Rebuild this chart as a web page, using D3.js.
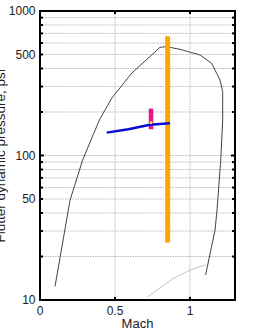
<!DOCTYPE html>
<html><head><meta charset="utf-8">
<script src="https://cdn.jsdelivr.net/npm/d3@7"></script>
<style>body{margin:0;background:#fff}svg{display:block;font-family:"Liberation Sans",Arial,sans-serif}</style>
</head><body><svg id="c" width="273" height="332"></svg>
<script>
const envelopeMach = [0.1,0.2,0.284,0.396,0.478,0.611,0.8,0.844,0.933,1.067,1.144,1.2,1.218,1.218,1.205,1.18,1.167,1.104];
const envelopeQ    = [12.4,49,93,176,249,371,561,566,543,496,435,333,277,176,93,42,30.5,14.9];
const lowMach = [1.104,1.0,0.889,0.716];
const lowQ    = [17.5,16.1,14.1,10.5];
const blueMach = [0.445,0.589,0.733,0.867];
const blueQ    = [144,152,163,167];
const magentaMach = [0.74,0.74];
const magentaQ    = [152,211];
const dotMach = [0.74];
const dotQ    = [169];
const orangeMach = [0.851,0.851];
const orangeQ    = [25,670];
const xTicks = [0,0.5,1];
const xTickLabels = ["0","0.5","1"];
const yMajor = [10,100,1000];
const yLabeled = [10,50,100,500,1000];
const yMinor = [20,30,40,50,60,70,80,90,200,300,400,500,600,700,800,900];

const svg = d3.select("#c");
const L=40,R=235,T=11,B=300;
const x = d3.scaleLinear().domain([0,1.3]).range([L,R]);
const y = d3.scaleLog().domain([10,1000]).range([B,T]);

// grid
const g = svg.append("g");
g.selectAll("line.hg").data(yMinor.concat([100])).join("line")
  .attr("x1",L).attr("x2",R).attr("y1",d=>y(d)).attr("y2",d=>y(d))
  .attr("stroke","#b8b8b8").attr("stroke-width",1).attr("stroke-dasharray","1.5,1");
g.selectAll("line.vg").data([0.5,1]).join("line")
  .attr("y1",T).attr("y2",B).attr("x1",d=>x(d)).attr("x2",d=>x(d))
  .attr("stroke","#b8b8b8").attr("stroke-width",1).attr("stroke-dasharray","1.5,1");

const line = d3.line().x(d=>x(d[0])).y(d=>y(d[1]));
const zip=(a,b)=>a.map((v,i)=>[v,b[i]]);

svg.append("path").attr("d",line(zip(lowMach,lowQ))).attr("fill","none").attr("stroke","#b0b0b0").attr("stroke-width",0.8);
svg.append("path").attr("d",line(zip(envelopeMach,envelopeQ))).attr("fill","none").attr("stroke","#444").attr("stroke-width",1);
svg.append("path").attr("d",line(zip(orangeMach,orangeQ))).attr("fill","none").attr("stroke","#ffa500").attr("stroke-width",5);
svg.append("path").attr("d",line(zip(magentaMach,magentaQ))).attr("fill","none").attr("stroke","#e8158a").attr("stroke-width",4.5);
svg.append("path").attr("d",line(zip(blueMach,blueQ))).attr("fill","none").attr("stroke","#0a0ad8").attr("stroke-width",2.5);
svg.selectAll("circle.d").data(zip(dotMach,dotQ)).join("circle")
  .attr("cx",d=>x(d[0])).attr("cy",d=>y(d[1])).attr("r",1.6).attr("fill","#f0e020");

// axes box
svg.append("rect").attr("x",L).attr("y",T).attr("width",R-L).attr("height",B-T)
  .attr("fill","none").attr("stroke","#000").attr("stroke-width",2);

// y ticks (inward, both sides)
const yt = svg.append("g");
yMinor.concat(yMajor).forEach(v=>{
  const len = yMajor.includes(v)?4:3;
  yt.append("line").attr("x1",L).attr("x2",L+len).attr("y1",y(v)).attr("y2",y(v)).attr("stroke","#000").attr("stroke-width",2);
  yt.append("line").attr("x1",R).attr("x2",R-len).attr("y1",y(v)).attr("y2",y(v)).attr("stroke","#000").attr("stroke-width",2);
});
xTicks.forEach(v=>{
  yt.append("line").attr("x1",x(v)).attr("x2",x(v)).attr("y1",B).attr("y2",B-3).attr("stroke","#000").attr("stroke-width",2);
  yt.append("line").attr("x1",x(v)).attr("x2",x(v)).attr("y1",T).attr("y2",T+3).attr("stroke","#000").attr("stroke-width",2);
});

// tick labels
svg.selectAll("text.yl").data(yLabeled).join("text")
  .attr("x",35.5).attr("y",d=>y(d)).attr("dy","0.35em").attr("text-anchor","end")
  .attr("font-size",12).attr("fill","#222").text(d=>d);
svg.selectAll("text.xl").data(xTicks).join("text")
  .attr("x",d=>x(d)).attr("y",315).attr("text-anchor","middle")
  .attr("font-size",12).attr("fill","#222").text((d,i)=>xTickLabels[i]);

svg.append("text").attr("x",(L+R)/2).attr("y",328).attr("text-anchor","middle")
  .attr("font-size",13).attr("fill","#222").text("Mach");
svg.append("text").attr("transform",`translate(5,${(T+B)/2}) rotate(-90)`)
  .attr("text-anchor","middle").attr("font-size",13.5).attr("fill","#222")
  .text("Flutter dynamic pressure, psf");
</script></body></html>
